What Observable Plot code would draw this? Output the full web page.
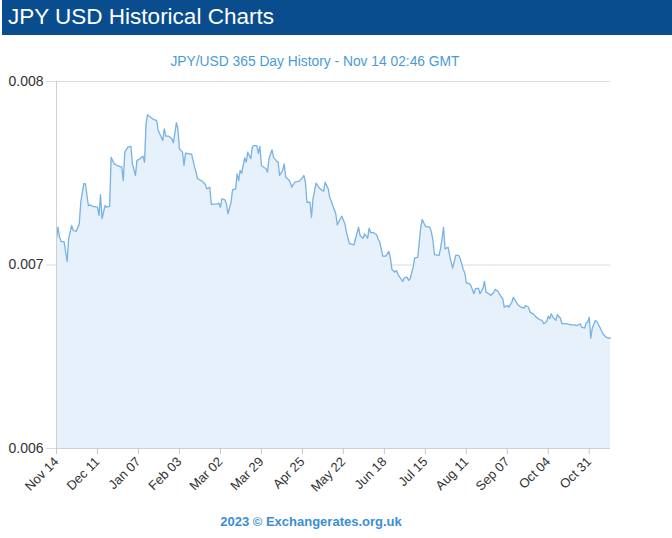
<!DOCTYPE html>
<html>
<head>
<meta charset="utf-8">
<script src="https://cdn.jsdelivr.net/npm/d3@7"></script>
<script src="https://cdn.jsdelivr.net/npm/@observablehq/plot@0.6"></script>
<style>
  html, body { margin: 0; padding: 0; background: #fff; }
  #wrap { position: relative; width: 672px; height: 538px; font-family: "Liberation Sans", Arial, sans-serif; overflow: hidden; }
  #title { position: absolute; top: 0; left: 2px; width: 670px; height: 35px; background: #0a4d8f; color: #fff; font-size: 22.5px; line-height: 34px; padding-left: 6px; box-sizing: border-box; }
  #sub { position: absolute; top: 54px; left: 0; width: 630px; text-align: center; font-size: 13.8px; color: #4a9bd6; }
  #foot { position: absolute; top: 514px; left: 0; width: 622px; text-align: center; font-size: 13px; font-weight: bold; color: #3a8ed4; }
  #chart { position: absolute; top: 36px; left: 0; }
</style>
</head>
<body>
<div id="wrap">
  <div id="title">JPY USD Historical Charts</div>
  <div id="chart"></div>
  <div id="sub">JPY/USD 365 Day History - Nov 14 02:46 GMT</div>
  <div id="foot">2023 © Exchangerates.org.uk</div>
</div>
<script>
const dates = [
"2022-11-14","2022-11-15","2022-11-16","2022-11-17","2022-11-19","2022-11-21","2022-11-22","2022-11-24","2022-11-25","2022-11-27",
"2022-11-29","2022-11-30","2022-12-02","2022-12-03","2022-12-05","2022-12-06","2022-12-08","2022-12-11","2022-12-12","2022-12-13",
"2022-12-14","2022-12-16","2022-12-17","2022-12-19","2022-12-20","2022-12-22","2022-12-24","2022-12-27","2022-12-28","2022-12-29",
"2022-12-31","2023-01-02","2023-01-03","2023-01-05","2023-01-06","2023-01-08","2023-01-10","2023-01-11","2023-01-12","2023-01-13",
"2023-01-15","2023-01-17","2023-01-19","2023-01-20","2023-01-21","2023-01-23","2023-01-24","2023-01-25","2023-01-27","2023-01-29",
"2023-01-30","2023-02-01","2023-02-02","2023-02-03","2023-02-05","2023-02-06","2023-02-07","2023-02-11","2023-02-13","2023-02-15",
"2023-02-18","2023-02-20","2023-02-21","2023-02-23","2023-02-24","2023-02-28","2023-03-01","2023-03-02","2023-03-03","2023-03-05",
"2023-03-06","2023-03-07","2023-03-09","2023-03-10","2023-03-12","2023-03-13","2023-03-14","2023-03-15","2023-03-16","2023-03-18",
"2023-03-19","2023-03-20","2023-03-22","2023-03-23","2023-03-24","2023-03-26","2023-03-27","2023-03-28","2023-03-29","2023-04-01",
"2023-04-02","2023-04-03","2023-04-05","2023-04-06","2023-04-08","2023-04-09","2023-04-10","2023-04-12","2023-04-13","2023-04-14",
"2023-04-16","2023-04-17","2023-04-18","2023-04-20","2023-04-23","2023-04-25","2023-04-26","2023-04-27","2023-04-28","2023-04-30",
"2023-05-01","2023-05-02","2023-05-04","2023-05-06","2023-05-08","2023-05-09","2023-05-10","2023-05-12","2023-05-13","2023-05-15",
"2023-05-17","2023-05-18","2023-05-20","2023-05-21","2023-05-23","2023-05-24","2023-05-26","2023-05-29","2023-05-30","2023-06-01",
"2023-06-02","2023-06-04","2023-06-05","2023-06-07","2023-06-08","2023-06-09","2023-06-11","2023-06-13","2023-06-14","2023-06-15",
"2023-06-17","2023-06-19","2023-06-21","2023-06-22","2023-06-23","2023-06-25","2023-06-26","2023-06-27","2023-06-29","2023-06-30",
"2023-07-01","2023-07-03","2023-07-04","2023-07-05","2023-07-07","2023-07-08","2023-07-10","2023-07-11","2023-07-12","2023-07-13",
"2023-07-15","2023-07-18","2023-07-19","2023-07-20","2023-07-21","2023-07-24","2023-07-25","2023-07-26","2023-07-27","2023-07-28",
"2023-07-30","2023-07-31","2023-08-02","2023-08-03","2023-08-04","2023-08-06","2023-08-07","2023-08-09","2023-08-10","2023-08-11",
"2023-08-13","2023-08-14","2023-08-16","2023-08-17","2023-08-19","2023-08-20","2023-08-22","2023-08-23","2023-08-24","2023-08-26",
"2023-08-27","2023-08-29","2023-08-30","2023-09-01","2023-09-02","2023-09-04","2023-09-05","2023-09-07","2023-09-08","2023-09-10",
"2023-09-11","2023-09-13","2023-09-14","2023-09-16","2023-09-18","2023-09-19","2023-09-21","2023-09-22","2023-09-24","2023-09-26",
"2023-09-28","2023-09-30","2023-10-01","2023-10-03","2023-10-04","2023-10-05","2023-10-06","2023-10-07","2023-10-09","2023-10-10",
"2023-10-12","2023-10-13","2023-10-16","2023-10-19","2023-10-21","2023-10-23","2023-10-25","2023-10-26","2023-10-28","2023-10-29",
"2023-10-30","2023-10-31","2023-11-01","2023-11-02","2023-11-04","2023-11-05","2023-11-07","2023-11-09","2023-11-11","2023-11-13",
"2023-11-14"
];
const rates = [
0.007143,0.007206,0.007152,0.007128,0.007127,0.007019,0.007144,0.007215,0.007188,0.007183,
0.007225,0.007342,0.007443,0.007443,0.007324,0.007328,0.007319,0.007315,0.007270,0.007383,
0.007252,0.007324,0.007315,0.007319,0.007587,0.007551,0.007542,0.007533,0.007460,0.007615,
0.007642,0.007647,0.007551,0.007488,0.007569,0.007579,0.007593,0.007560,0.007769,0.007819,
0.007805,0.007793,0.007787,0.007733,0.007715,0.007678,0.007742,0.007702,0.007702,0.007688,
0.007666,0.007775,0.007742,0.007633,0.007615,0.007542,0.007609,0.007604,0.007533,0.007470,
0.007457,0.007439,0.007415,0.007424,0.007330,0.007333,0.007337,0.007315,0.007361,0.007355,
0.007330,0.007279,0.007342,0.007410,0.007415,0.007497,0.007460,0.007515,0.007500,0.007584,
0.007560,0.007615,0.007579,0.007642,0.007651,0.007651,0.007609,0.007646,0.007542,0.007524,
0.007506,0.007579,0.007628,0.007587,0.007566,0.007560,0.007488,0.007515,0.007551,0.007478,
0.007464,0.007451,0.007424,0.007451,0.007457,0.007475,0.007488,0.007451,0.007342,0.007342,
0.007260,0.007361,0.007446,0.007421,0.007406,0.007402,0.007451,0.007415,0.007370,0.007324,
0.007279,0.007219,0.007252,0.007266,0.007225,0.007179,0.007116,0.007110,0.007143,0.007206,
0.007161,0.007146,0.007170,0.007146,0.007201,0.007176,0.007176,0.007165,0.007139,0.007124,
0.007048,0.007048,0.007074,0.007037,0.006976,0.006961,0.006970,0.006948,0.006925,0.006910,
0.006928,0.006934,0.006916,0.006925,0.006988,0.007039,0.007041,0.007124,0.007206,0.007248,
0.007211,0.007206,0.007179,0.007134,0.007056,0.007052,0.007088,0.007143,0.007206,0.007088,
0.007097,0.007052,0.006983,0.007015,0.007052,0.007052,0.007034,0.006976,0.006957,0.006903,
0.006898,0.006888,0.006843,0.006870,0.006874,0.006843,0.006874,0.006910,0.006852,0.006843,
0.006834,0.006849,0.006867,0.006856,0.006838,0.006816,0.006770,0.006779,0.006770,0.006797,
0.006824,0.006797,0.006783,0.006770,0.006765,0.006779,0.006770,0.006743,0.006734,0.006716,
0.006703,0.006698,0.006680,0.006692,0.006721,0.006707,0.006734,0.006716,0.006698,0.006729,
0.006710,0.006680,0.006680,0.006674,0.006674,0.006670,0.006680,0.006661,0.006656,0.006685,
0.006688,0.006716,0.006601,0.006656,0.006698,0.006692,0.006661,0.006625,0.006607,0.006601,
0.006601
];
const xTicks = ["2022-11-14","2022-12-11","2023-01-07","2023-02-03","2023-03-02","2023-03-29","2023-04-25",
                "2023-05-22","2023-06-18","2023-07-15","2023-08-11","2023-09-07","2023-10-04","2023-10-31"];
const yTicks = [0.006, 0.007, 0.008];
const xDomain = ["2022-11-14", "2023-11-14"];
const yDomain = [0.006, 0.008];

const parse = d3.utcParse("%Y-%m-%d");
const data = dates.map((d, i) => ({date: parse(d), rate: rates[i]}));
const tickDates = xTicks.map(parse);

const chart = Plot.plot({
  width: 672,
  height: 502,
  marginTop: 45,
  marginBottom: 90,
  marginLeft: 56,
  marginRight: 62,
  style: {fontFamily: "'Liberation Sans', Arial, sans-serif", background: "transparent"},
  x: {type: "utc", domain: xDomain.map(parse)},
  y: {domain: yDomain},
  marks: [
    Plot.gridY(yTicks, {stroke: "#dcdcdc", strokeOpacity: 1}),
    Plot.areaY(data, {x: "date", y1: yDomain[0], y2: "rate", fill: "#e7f1fb", fillOpacity: 1}),
    Plot.lineY(data, {x: "date", y: "rate", stroke: "#78b2e3", strokeWidth: 1.3}),
    Plot.ruleX([parse(xDomain[0])], {stroke: "#d0d0d0"}),
    Plot.ruleY([yDomain[0]], {stroke: "#d0d0d0"}),
    Plot.axisY({ticks: yTicks, tickFormat: d3.format(".3f"), tickSize: 10, tickPadding: 3, stroke: "#dcdcdc",
                fontSize: 14, fill: "#333", label: null}),
    Plot.axisX({ticks: tickDates, tickFormat: d3.utcFormat("%b %d"), tickRotate: -45, tickSize: 6, tickPadding: 5,
                stroke: "#c8c8c8", fontSize: 13, fill: "#333", label: null})
  ]
});
document.getElementById("chart").appendChild(chart);
</script>
</body>
</html>
